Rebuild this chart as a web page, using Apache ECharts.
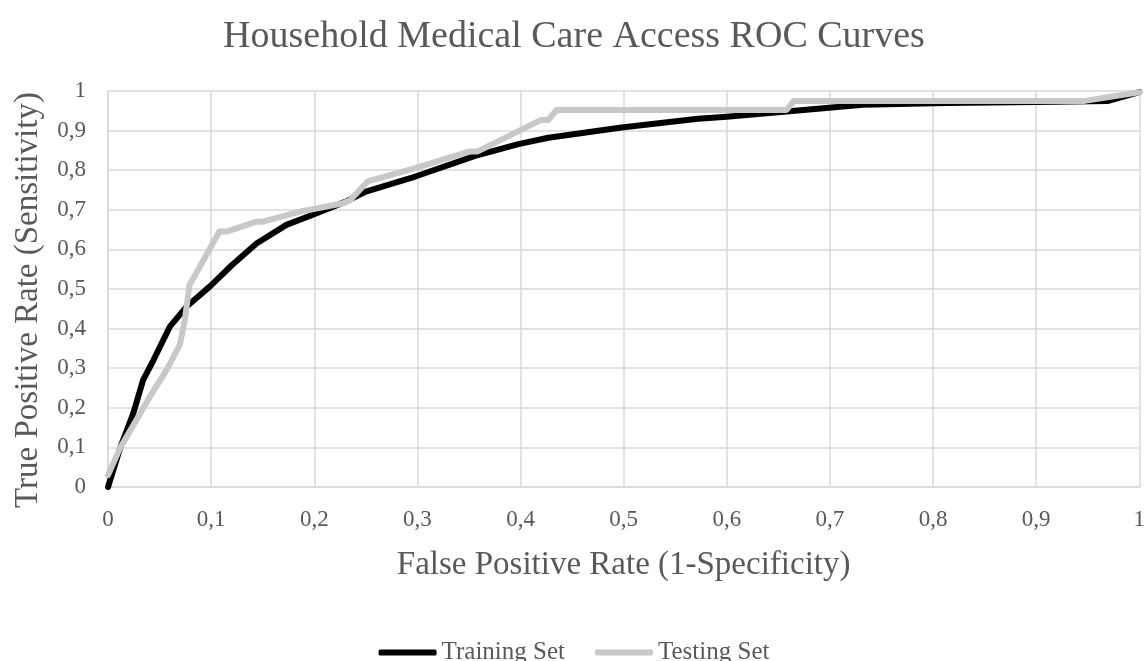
<!DOCTYPE html>
<html>
<head>
<meta charset="utf-8">
<script src="https://cdn.jsdelivr.net/npm/echarts@6/dist/echarts.min.js"></script>
<style>html,body{margin:0;padding:0;background:#fff}#c{width:1148px;height:661px}</style>
</head>
<body>
<div id="c"></div>
<script>
const titleText = "Household Medical Care Access ROC Curves";
const xName = "False Positive Rate (1-Specificity)";
const yName = "True Positive Rate (Sensitivity)";
const seriesNames = ["Training Set", "Testing Set"];

const trainFPR = [0, 0.012, 0.0245, 0.034, 0.044, 0.06, 0.076, 0.0986, 0.12, 0.144, 0.173, 0.198, 0.23, 0.25, 0.298, 0.356, 0.398, 0.427, 0.498, 0.572, 0.6, 0.658, 0.732, 0.813, 0.9, 0.97, 1];
const trainTPR = [0, 0.1, 0.186, 0.27, 0.32, 0.405, 0.455, 0.506, 0.56, 0.615, 0.662, 0.687, 0.72, 0.746, 0.784, 0.836, 0.866, 0.882, 0.908, 0.93, 0.935, 0.948, 0.965, 0.97, 0.972, 0.975, 0.997];

const testFPR = [0, 0.012, 0.0406, 0.0567, 0.0696, 0.0744, 0.079, 0.089, 0.108, 0.115, 0.144, 0.15, 0.1855, 0.227, 0.235, 0.2515, 0.256, 0.298, 0.35, 0.358, 0.42, 0.427, 0.435, 0.658, 0.665, 0.947, 1];
const testTPR = [0.03, 0.1, 0.228, 0.295, 0.359, 0.42, 0.51, 0.556, 0.645, 0.645, 0.67, 0.67, 0.695, 0.716, 0.725, 0.771, 0.775, 0.805, 0.847, 0.847, 0.927, 0.927, 0.952, 0.952, 0.975, 0.975, 0.997];

function pairs(xs, ys) { return xs.map((x, i) => [x, ys[i]]); }
const fmt = v => String(Math.round(v * 10) / 10).replace('.', ',');
const serif = "'Liberation Serif', 'DejaVu Serif', serif";
const txt = '#595959';
const gridC = '#d9d9d9';

const chart = echarts.init(document.getElementById('c'));
chart.setOption({
  animation: false,
  backgroundColor: '#fff',
  title: {
    text: titleText, left: 'center', top: 13,
    textStyle: { fontFamily: serif, fontSize: 38, fontWeight: 'normal', color: txt }
  },
  legend: {
    bottom: -9, left: 'center',
    itemWidth: 58, itemHeight: 6, itemGap: 30,
    icon: 'roundRect',
    textStyle: { fontFamily: serif, fontSize: 25, color: txt },
    data: seriesNames
  },
  grid: { left: 108, right: 5, top: 91, bottom: 174, containLabel: false },
  xAxis: {
    type: 'value', min: 0, max: 1, interval: 0.1,
    name: xName, nameLocation: 'middle', nameGap: 62,
    nameTextStyle: { fontFamily: serif, fontSize: 33, color: txt },
    axisLine: { show: true, lineStyle: { color: gridC, width: 1.5 } },
    axisTick: { show: false },
    axisLabel: { formatter: fmt, fontFamily: serif, fontSize: 23, color: txt, margin: 21 },
    splitLine: { show: true, lineStyle: { color: gridC, width: 1.5 } }
  },
  yAxis: {
    type: 'value', min: 0, max: 1, interval: 0.1,
    name: yName, nameLocation: 'middle', nameGap: 63,
    nameTextStyle: { fontFamily: serif, fontSize: 33, color: txt, padding: [0, 22, 0, 0] },
    axisLine: { show: true, lineStyle: { color: gridC, width: 1.5 } },
    axisTick: { show: false },
    axisLabel: { formatter: fmt, fontFamily: serif, fontSize: 23, color: txt, margin: 22 },
    splitLine: { show: true, lineStyle: { color: gridC, width: 1.5 } }
  },
  series: [
    {
      name: seriesNames[0], type: 'line', showSymbol: false, symbol: 'none',
      data: pairs(trainFPR, trainTPR),
      lineStyle: { color: '#000000', width: 6, join: 'round', cap: 'round' },
      itemStyle: { color: '#000000' }
    },
    {
      name: seriesNames[1], type: 'line', showSymbol: false, symbol: 'none',
      data: pairs(testFPR, testTPR),
      lineStyle: { color: '#c8c8c8', width: 6, join: 'round', cap: 'round' },
      itemStyle: { color: '#c8c8c8' }
    }
  ]
});
</script>
</body>
</html>
